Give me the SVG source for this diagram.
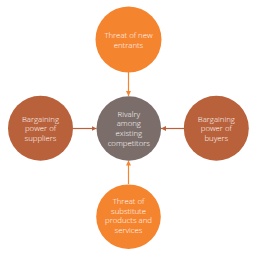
<svg xmlns="http://www.w3.org/2000/svg" width="256" height="256" viewBox="0 0 256 256">
<style>
.t{font-family:"Open Sans","DejaVu Sans",sans-serif;font-size:7.8px;font-weight:300;fill:#ffffff;text-anchor:middle;dominant-baseline:central}
.o{fill:#f5842f}
.s{fill:#b9613b}
.c{fill:#7b6e6a}
</style>
<defs>
<marker id="ao" viewBox="0 0 10 10" refX="10" refY="5" markerWidth="5" markerHeight="5" orient="auto" markerUnits="userSpaceOnUse"><path d="M0,0L10,5L0,10z" fill="#f5842f"/></marker>
<marker id="as" viewBox="0 0 10 10" refX="10" refY="5" markerWidth="5" markerHeight="5" orient="auto" markerUnits="userSpaceOnUse"><path d="M0,0L10,5L0,10z" fill="#b9613b"/></marker>
</defs>
<rect width="256" height="256" fill="#ffffff"/>
<g id="connectors" stroke-width="1.2" fill="none">
<line x1="128.5" y1="72" x2="128.5" y2="96" stroke="#f5842f" marker-end="url(#ao)"/>
<line x1="128.5" y1="184" x2="128.5" y2="160.5" stroke="#f5842f" marker-end="url(#ao)"/>
<line x1="73" y1="128.5" x2="96.5" y2="128.5" stroke="#b9613b" marker-end="url(#as)"/>
<line x1="184" y1="128.5" x2="161" y2="128.5" stroke="#b9613b" marker-end="url(#as)"/>
</g>
<g id="top">
<circle class="o" cx="128.5" cy="39.5" r="33"/>
<text class="t" x="128.5" y="35">Threat of new</text>
<text class="t" x="128.5" y="45">entrants</text>
</g>
<g id="center">
<circle class="c" cx="128.8" cy="128.5" r="32.3"/>
<text class="t" x="128.8" y="113.5">Rivalry</text>
<text class="t" x="128.8" y="123.3">among</text>
<text class="t" x="128.8" y="133">existing</text>
<text class="t" x="128.8" y="142.8">competitors</text>
</g>
<g id="left">
<circle class="s" cx="40.5" cy="128.3" r="32.5"/>
<text class="t" x="40.5" y="118.5">Bargaining</text>
<text class="t" x="40.5" y="128">power of</text>
<text class="t" x="40.5" y="137.5">suppliers</text>
</g>
<g id="right">
<circle class="s" cx="216.3" cy="128.3" r="32.5"/>
<text class="t" x="216.3" y="118.5">Bargaining</text>
<text class="t" x="216.3" y="128">power of</text>
<text class="t" x="216.3" y="137.5">buyers</text>
</g>
<g id="bottom">
<circle class="o" cx="128.5" cy="216.7" r="32.3"/>
<text class="t" x="128.5" y="201">Threat of</text>
<text class="t" x="128.5" y="210.5">substitute</text>
<text class="t" x="128.5" y="220">products and</text>
<text class="t" x="128.5" y="229.7">services</text>
</g>
</svg>
